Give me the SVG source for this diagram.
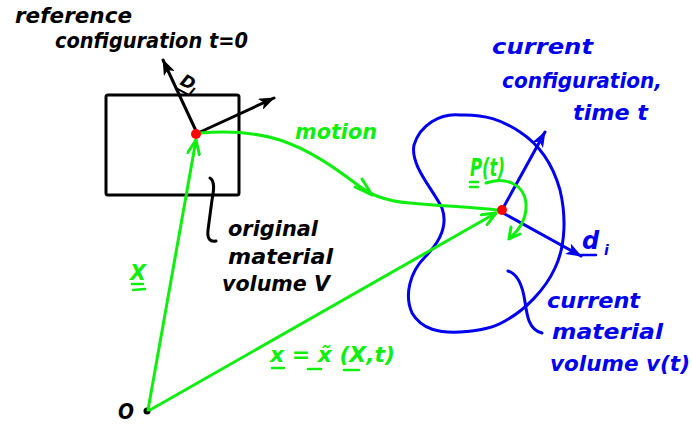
<svg xmlns="http://www.w3.org/2000/svg" width="692" height="428" viewBox="0 0 692 428">
<style>
.t{font-family:"DejaVu Sans",sans-serif;font-weight:bold;font-style:oblique;font-size:22px}
.k{fill:#000}
.g{fill:#10ee10}
.b{fill:#0000ee}
.sk{fill:none;stroke:#000;stroke-width:3;stroke-linecap:round;stroke-linejoin:round}
.sg{fill:none;stroke:#10ee10;stroke-width:3;stroke-linecap:round;stroke-linejoin:round}
.sb{fill:none;stroke:#0000ee;stroke-width:3;stroke-linecap:round;stroke-linejoin:round}
</style>
<defs>
<marker id="ak" viewBox="0 0 16 12" refX="15" refY="6" markerWidth="16" markerHeight="12" markerUnits="userSpaceOnUse" orient="auto"><path d="M0,0 L16,6 L0,12 L4,6 Z" fill="#000"/></marker>
<marker id="ab" viewBox="0 0 16 12" refX="15" refY="6" markerWidth="16" markerHeight="12" markerUnits="userSpaceOnUse" orient="auto"><path d="M0,0 L16,6 L0,12 L4,6 Z" fill="#0000ee"/></marker>
<marker id="ag" viewBox="0 0 16 14" refX="15" refY="7" markerWidth="16" markerHeight="14" markerUnits="userSpaceOnUse" orient="auto"><path d="M1,1 L15,7 L1,13" fill="none" stroke="#10ee10" stroke-width="3" stroke-linecap="round" stroke-linejoin="round"/></marker>
</defs>

<g id="reference-label">
<text class="t k" x="15" y="23" textLength="117" lengthAdjust="spacingAndGlyphs">reference</text>
<text class="t k" x="55" y="48" textLength="193" lengthAdjust="spacingAndGlyphs">configuration t=0</text>
</g>

<g id="reference-body">
<rect x="106" y="95" width="133" height="100" rx="2" class="sk"/>
</g>

<g id="original-volume-label">
<path class="sk" d="M210,178 C215,181 214,190 212,200 L208,230 C207,239 210,242 216,241"/>
<text class="t k" x="228" y="236" textLength="90" lengthAdjust="spacingAndGlyphs">original</text>
<text class="t k" x="228" y="264" textLength="105" lengthAdjust="spacingAndGlyphs">material</text>
<text class="t k" x="222" y="291" textLength="108" lengthAdjust="spacingAndGlyphs">volume V</text>
</g>

<g id="current-body">
<path class="sb" d="M460,115 C440,113 420,125 414,145 C410,165 432,188 442,208 C448,225 440,242 425,257 C410,272 404,295 412,313 C422,330 440,333 460,332 C480,331 495,327 505,321 C525,310 545,290 555,268 C566,245 566,215 560,190 C553,165 540,145 520,132 C502,120 485,114 460,115 Z"/>
</g>

<g id="current-config-label">
<text class="t b" x="492" y="54" textLength="101" lengthAdjust="spacingAndGlyphs">current</text>
<text class="t b" x="502" y="88" textLength="160" lengthAdjust="spacingAndGlyphs">configuration,</text>
<text class="t b" x="573" y="120" textLength="75" lengthAdjust="spacingAndGlyphs">time t</text>
</g>

<g id="current-volume-label">
<path class="sb" d="M508,271 C518,274 523,288 525,302 C527,316 529,330 542,333"/>
<text class="t b" x="547" y="308" textLength="93" lengthAdjust="spacingAndGlyphs">current</text>
<text class="t b" x="552" y="339" textLength="111" lengthAdjust="spacingAndGlyphs">material</text>
<text class="t b" x="550" y="371" textLength="140" lengthAdjust="spacingAndGlyphs">volume v(t)</text>
</g>

<g id="origin">
<text class="t k" x="118" y="419" textLength="16" lengthAdjust="spacingAndGlyphs">O</text>
<circle cx="147" cy="411" r="3.5" fill="#000"/>
</g>

<g id="connectors">
<path class="sk" d="M197,133 L163,60" marker-end="url(#ak)"/>
<path class="sk" d="M198,133 L274,98" marker-end="url(#ak)"/>
<path class="sb" d="M502,210 L545,132" marker-end="url(#ab)"/>
<path class="sb" d="M503,213 L581,256" marker-end="url(#ab)"/>
<path class="sg" d="M148,410 L196,140" marker-end="url(#ag)"/>
<path class="sg" d="M150,410 L496,213" marker-end="url(#ag)"/>
<path class="sg" d="M200,133 C225,131 255,132 280,140 C310,150 335,168 355,183 C370,195 385,201 410,203 C440,206 470,207 497,210"/>
<path class="sg" d="M355,187 L372,195 L362,179"/>
<path class="sg" d="M486,183 C505,176 524,184 526,203 C527,218 520,229 511,237"/>
<path class="sg" d="M511,227 L509,239 L520,234"/>
</g>

<g id="labels">
<g transform="translate(179,84) rotate(28)">
<text class="t k" x="0" y="0" style="font-size:17px">D</text>
<text class="t k" x="13" y="4" style="font-size:11px">I</text>
<line class="sk" x1="1" y1="5" x2="12" y2="5" style="stroke-width:2"/>
</g>
<text class="t g" x="295" y="139" textLength="82" lengthAdjust="spacingAndGlyphs">motion</text>
<text class="t g" x="130" y="280" textLength="16" lengthAdjust="spacingAndGlyphs">X</text>
<line class="sg" x1="132" y1="284" x2="143" y2="284" style="stroke-width:2.5"/>
<line class="sg" x1="133" y1="290" x2="145" y2="289" style="stroke-width:2.5"/>
<text class="t g" x="270" y="362" textLength="125" lengthAdjust="spacingAndGlyphs">x = x̃ (X,t)</text>
<line class="sg" x1="272" y1="368" x2="284" y2="368" style="stroke-width:2.5"/>
<line class="sg" x1="308" y1="369" x2="321" y2="369" style="stroke-width:2.5"/>
<line class="sg" x1="344" y1="370" x2="359" y2="370" style="stroke-width:2.5"/>
<text class="t g" x="470" y="176" textLength="35" lengthAdjust="spacingAndGlyphs" style="font-size:24px">P(t)</text>
<line class="sg" x1="470" y1="182" x2="478" y2="182" style="stroke-width:2.5"/>
<line class="sg" x1="470" y1="187" x2="478" y2="187" style="stroke-width:2.5"/>
<text class="t b" x="582" y="249" style="font-size:24px">d</text>
<text class="t b" x="604" y="255" style="font-size:14px">i</text>
<line class="sb" x1="581" y1="255" x2="596" y2="255" style="stroke-width:2.5"/>
</g>

<g id="points">
<circle cx="196" cy="134" r="5" fill="#ff0000"/>
<circle cx="502" cy="210" r="5" fill="#ff0000"/>
</g>
</svg>
